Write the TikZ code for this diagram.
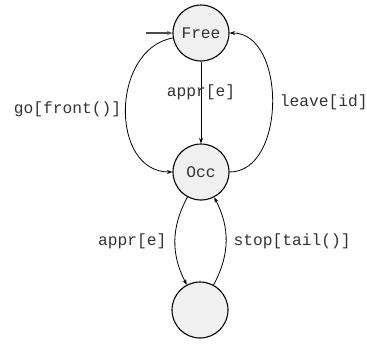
\documentclass[tikz,border=0pt]{standalone}
\usepackage{fontspec}
\setmonofont{Liberation Mono}
\usepackage{tikz}
\usetikzlibrary{arrows.meta}
\usetikzlibrary{positioning}

\begin{document}
\begin{tikzpicture}[x=1bp,y=-1bp,node distance=139bp,on grid,
  every node/.style={font=\ttfamily\fontsize{16.3}{18}\selectfont,text=black!80},
  st/.style={draw,circle,fill=black!6,line width=1.1bp,minimum size=56bp,inner sep=0pt},
  tr/.style={line width=0.8bp,-{Stealth[length=5.5bp,width=4bp]}}]
  \useasboundingbox (0,0) rectangle (367,345);
  \node[st] (free) at (201,33) {Free};
  \node[st,below=of free] (occ) {Occ};
  \node[st,below=138bp of occ,xshift=-1bp] (sink) {};
  \coordinate (start) at (146,33);

  \draw[tr,line width=1.5bp,black!70](start)--(free);
  \draw[tr](free)--(occ) node[pos=0.37]{appr[e]};
  \draw[tr](free.190) to[out=190,in=180,looseness=1.2] node[left=1bp]{go[front()]} (occ.west);
  \draw[tr](occ.east) to[out=0,in=0,looseness=1.05] node[right=4bp]{leave[id]} (free.east);
  \draw[tr](occ) to[bend right=28] node[left=5bp]{appr[e]} (sink);
  \draw[tr](sink) to[bend right=28] node[right=4bp]{stop[tail()]} (occ);
\end{tikzpicture}
\end{document}
